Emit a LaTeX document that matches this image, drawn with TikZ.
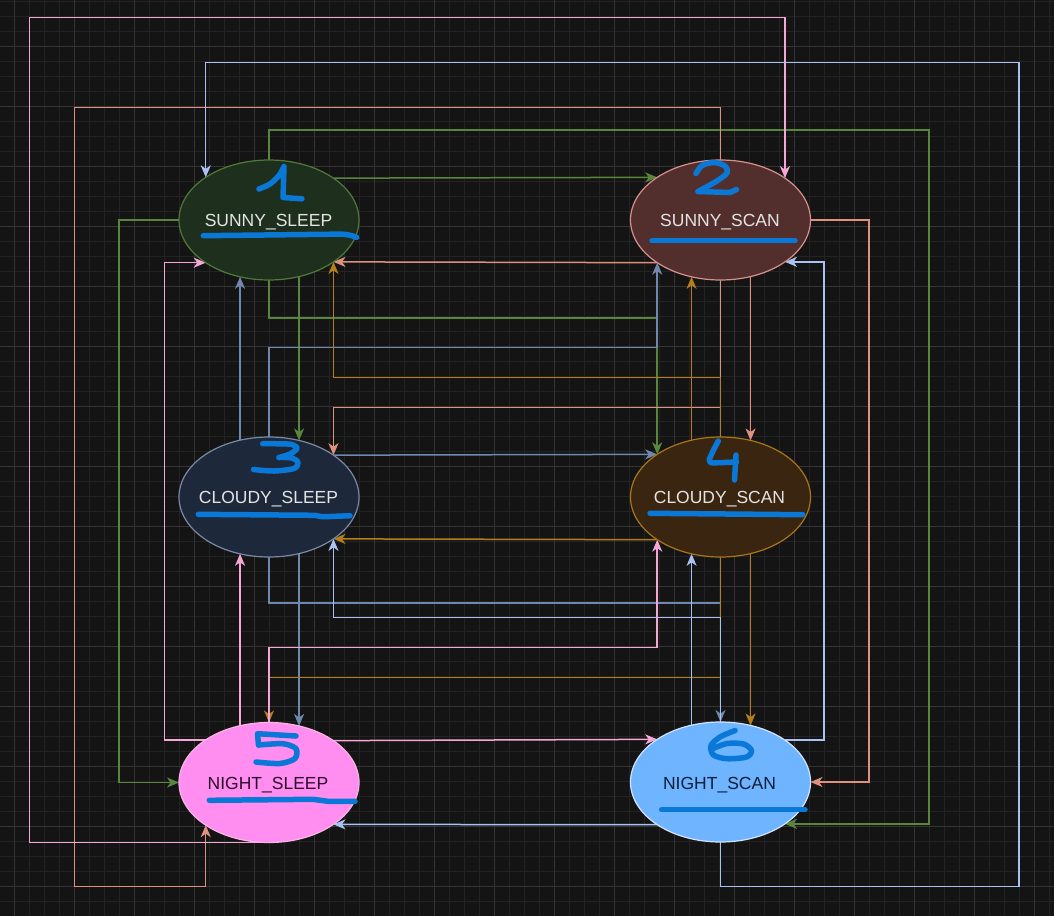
\documentclass[tikz,border=0pt]{standalone}
\usepackage{fontspec}
\setmainfont{Liberation Sans}
\usetikzlibrary{arrows.meta,shapes.geometric}
\definecolor{bgc}{HTML}{141414}
\definecolor{gridminor}{HTML}{232323}
\definecolor{gridmajor}{HTML}{343434}
\definecolor{fillA}{HTML}{1F2F1E}
\definecolor{lineA}{HTML}{4F7A38}
\definecolor{fillB}{HTML}{522F2D}
\definecolor{lineB}{HTML}{D8918A}
\definecolor{fillC}{HTML}{1D283B}
\definecolor{lineC}{HTML}{7A89A6}
\definecolor{fillD}{HTML}{3A2510}
\definecolor{lineD}{HTML}{A8761C}
\definecolor{fillE}{HTML}{FF8EF0}
\definecolor{lineE}{HTML}{F7B6E6}
\definecolor{fillF}{HTML}{6EB4FF}
\definecolor{lineF}{HTML}{D4E3FF}
\definecolor{edgeG}{HTML}{58863B}
\definecolor{edgeS}{HTML}{E0907F}
\definecolor{edgeSl}{HTML}{6F88AD}
\definecolor{edgeO}{HTML}{B47E1A}
\definecolor{edgeP}{HTML}{F5A8D6}
\definecolor{edgeB}{HTML}{A9C2F2}
\definecolor{txtlight}{HTML}{E4E4E4}
\definecolor{txtE}{HTML}{2A0D2A}
\definecolor{txtF}{HTML}{0E1D38}
\definecolor{ink}{HTML}{0A78D6}
\pgfdeclarelayer{bglayer}
\pgfdeclarelayer{edgelayer}
\pgfsetlayers{bglayer,edgelayer,main}
\begin{document}
\begin{tikzpicture}[x=1pt,y=-1pt,
  state/.style={ellipse, minimum width=180pt, minimum height=120pt, inner sep=0pt, outer sep=0pt, line width=1.2pt},
  lbl/.style={font=\fontsize{17.5}{20}\selectfont, anchor=base, inner sep=0pt},
  conn/.style={line width=1.5pt, -{Stealth[length=12pt,width=10pt,inset=3.5pt]}},
  cG/.style={conn, draw=edgeG},
  cS/.style={conn, draw=edgeS},
  cSl/.style={conn, draw=edgeSl},
  cO/.style={conn, draw=edgeO},
  cP/.style={conn, draw=edgeP},
  cB/.style={conn, draw=edgeB},
  scrib/.style={draw=ink, line width=5.5pt, line cap=round, line join=round},
  gminor/.style={draw=gridminor, line width=0.8pt},
  gmajor/.style={draw=gridmajor, line width=1pt}]
\useasboundingbox (0,0) rectangle (1054,916);
\begin{pgfonlayer}{bglayer}
  \fill[bgc] (0,0) rectangle (1054,916);
  \foreach \i in {0,...,70} \draw[gminor] ({-1+15*\i},0) -- ({-1+15*\i},916);
  \foreach \i in {0,...,60} \draw[gminor] (0,{1.7+15*\i}) -- (1054,{1.7+15*\i});
  \foreach \i in {0,...,17} \draw[gmajor] ({14+60*\i},0) -- ({14+60*\i},916);
  \foreach \i in {0,...,14} \draw[gmajor] (0,{46.7+60*\i}) -- (1054,{46.7+60*\i});
\end{pgfonlayer}

% states
\node[state, fill=fillA, draw=lineA] (n1) at (269,220) {};
\node[state, fill=fillB, draw=lineB] (n2) at (720.5,220) {};
\node[state, fill=fillC, draw=lineC] (n3) at (269,497) {};
\node[state, fill=fillD, draw=lineD] (n4) at (720.5,497) {};
\node[state, fill=fillE, draw=lineE] (n5) at (269,782.5) {};
\node[state, fill=fillF, draw=lineF] (n6) at (720.5,782) {};

\node[lbl, text=txtlight] (t1) at (268.5,226.3) {SUNNY\_SLEEP};
\node[lbl, text=txtlight] (t2) at (720,226.3) {SUNNY\_SCAN};
\node[lbl, text=txtlight] (t3) at (268.5,503.5) {CLOUDY\_SLEEP};
\node[lbl, text=txtlight] (t4) at (719.5,503.5) {CLOUDY\_SCAN};
\node[lbl, text=txtE] (t5) at (268,789) {NIGHT\_SLEEP};
\node[lbl, text=txtF] (t6) at (719.5,789) {NIGHT\_SCAN};

% connectors
\begin{pgfonlayer}{edgelayer}
  % from SUNNY_SLEEP
  \draw[cG] (n1.33.69) -- (n2.146.31);
  \draw[cG] (n1.-62.07) -- (n3.62.07);
  \draw[cG] (n1.south) -- ++(0,38) -| (n4.146.31);
  \draw[cG] (n1.west) -- ++(-60,0) |- (n5.west);
  \draw[cG] (n1.north) |- (929,130) |- (n6.-33.69);
  % from SUNNY_SCAN
  \draw[cS] (n2.-146.31) -- (n1.-33.69);
  \draw[cS] (n2.south) -- ++(0,127.7) -| (n3.33.69);
  \draw[cS] (n2.-62.07) -- (n4.62.07);
  \draw[cS] (n2.north) |- (74.4,107.7) -- (74.4,886.5) -| (n5.-146.31);
  \draw[cS] (n2.east) -- ++(58.5,0) |- (n6.east);
  % from CLOUDY_SLEEP
  \draw[cSl] (n3.117.93) -- (n1.-117.93);
  \draw[cSl] (n3.north) -- ++(0,-89.5) -| (n2.-146.31);
  \draw[cSl] (n3.33.69) -- (n4.146.31);
  \draw[cSl] (n3.-62.07) -- (n5.62.07);
  \draw[cSl] (n3.south) -- ++(0,46) -| (n6.north);
  % from CLOUDY_SCAN
  \draw[cO] (n4.north) -- ++(0,-59.5) -| (n1.-33.69);
  \draw[cO] (n4.117.93) -- (n2.-117.93);
  \draw[cO] (n4.-146.31) -- (n3.-33.69);
  \draw[cO] (n4.south) -- ++(0,120.7) -| (n5.north);
  \draw[cO] (n4.-62.07) -- (n6.62.07);
  % from NIGHT_SLEEP
  \draw[cP] (n5.146.31) -- ++(-41.4,0) |- (n1.-146.31);
  \draw[cP] (n5.south) -| (29.4,17.7) -| (n2.33.69);
  \draw[cP] (n5.117.93) -- (n3.-117.93);
  \draw[cP] (n5.north) -- ++(0,-74.8) -| (n4.-146.31);
  \draw[cP] (n5.33.69) -- (n6.146.31);
  % from NIGHT_SCAN
  \draw[cB] (n6.south) |- (1019,886.5) -- (1019,62.3) -| (n1.146.31);
  \draw[cB] (n6.33.69) -- ++(39,0) |- (n2.-33.69);
  \draw[cB] (n6.north) -- ++(0,-104.3) -| (n3.-33.69);
  \draw[cB] (n6.117.93) -- (n4.-117.93);
  \draw[cB] (n6.-146.31) -- (n5.-33.69);
\end{pgfonlayer}

% handwritten digits and underlines
\draw[scrib] plot[smooth] coordinates {(259,189) (270,184) (279,175.5) (284,166.5)} -- (283,197.5) -- (302,198.8);
\draw[scrib] (203.3,235.7) -- (333,234.2) .. controls (345,233.4) and (352,235.5) .. (356.7,237.3);

\draw[scrib] plot[smooth] coordinates {(696,173.5) (702,165.5) (714,162.5) (725,166) (727,173) (716,181.5) (698,191.5)};
\draw[scrib] (698,191.5) -- (730,192.5) -- (736.5,189.5);
\draw[scrib] (652,240.7) -- (795,240.7);

\draw[scrib] plot[smooth] coordinates {(262.7,443.7) (280,443.8) (292,444.5) (297,448.5) (290,454) (279,457.5)};
\draw[scrib] plot[smooth] coordinates {(279,457.5) (292,458) (298,462.5) (294,468.5) (274,471) (253.5,469.5)};
\draw[scrib] (198.3,514.3) -- (315,515.3) .. controls (322,516.8) .. (330,516.5) -- (350,515.7);

\draw[scrib] plot[smooth] coordinates {(718.3,441) (713,451) (709.3,459.5)} .. controls (710,463) .. (716,462.8) -- (736.5,462);
\draw[scrib] (736,455) -- (734.5,480);
\draw[scrib] (650,513.3) -- (802.7,514.7);

\draw[scrib] (296,736) -- (257.5,733.7) -- (258.5,745);
\draw[scrib] plot[smooth] coordinates {(258.5,745) (283,743.7) (296,748.7) (295,758.5) (280,763.5) (256,762)};
\draw[scrib] (209.3,800.3) -- (313,799.3) .. controls (320,801) .. (328,801.3) -- (355,801.3);

\draw[scrib] plot[smooth] coordinates {(735,730.5) (720,737) (711,745.5) (713.5,755) (727,758.7) (746.5,757) (751.5,750.5) (743.5,744) (727,743.5) (712.7,748.7)};
\draw[scrib] (661.7,809.7) -- (805,809.7);
\end{tikzpicture}
\end{document}
